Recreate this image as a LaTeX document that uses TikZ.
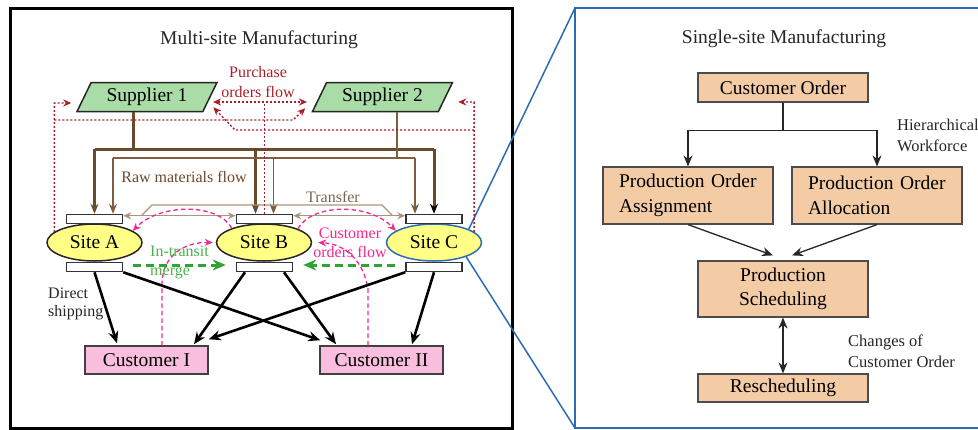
\documentclass[tikz,border=0pt]{standalone}
\usepackage{fontspec}
\setmainfont{Liberation Serif}
\usetikzlibrary{shapes.geometric,arrows.meta,calc}

\definecolor{brownA}{HTML}{6B4A2B}
\definecolor{brownB}{HTML}{7D5F3F}
\definecolor{tanline}{HTML}{A8957E}
\definecolor{tantext}{HTML}{7A6650}
\definecolor{porder}{HTML}{A8202C}
\definecolor{corder}{HTML}{F2288E}
\definecolor{transit}{HTML}{2FA334}
\definecolor{transittext}{HTML}{4DB04F}
\definecolor{suppfill}{HTML}{A9DCA6}
\definecolor{sitefill}{HTML}{FFFF85}
\definecolor{custfill}{HTML}{F9BDDE}
\definecolor{stepfill}{HTML}{F3CCA6}
\definecolor{zoomblue}{HTML}{2C6CB5}

\newcommand\mainsize{\fontsize{19.5}{24.5}\selectfont}
\newcommand\labelsize{\fontsize{16}{19.5}\selectfont}
\newcommand\notesize{\fontsize{16.5}{21}\selectfont}

\begin{document}
\begin{tikzpicture}[x=1pt,y=-1pt,
  supplier/.style={trapezium, trapezium left angle=60, trapezium right angle=120,
    trapezium stretches=true, draw=black!85, line width=1.5pt, fill=suppfill,
    minimum width=140pt, minimum height=29pt, inner sep=0pt, font=\mainsize},
  site/.style={ellipse, draw=black!85, line width=1.5pt, fill=sitefill,
    minimum width=95pt, minimum height=37pt, inner sep=0pt, font=\mainsize},
  dock/.style={rectangle, draw=black!80, line width=1.5pt, fill=white,
    minimum width=56pt, minimum height=9pt, inner sep=0pt},
  customer/.style={rectangle, draw=black!75, line width=1.5pt, fill=custfill,
    minimum width=123pt, minimum height=28pt, inner sep=0pt, font=\mainsize},
  stepbox/.style={rectangle, draw=black!70, line width=1.2pt, fill=stepfill,
    minimum width=170pt, inner sep=0pt, font=\mainsize},
  rawthick/.style={draw=brownA, line width=3pt},
  rawthin/.style={draw=brownB, line width=1.5pt},
  rawtip/.style={-{Stealth[length=10pt,width=8pt]}},
  transferline/.style={draw=tanline, line width=1.3pt},
  purchase/.style={draw=porder, line width=1.4pt, dash pattern=on 2pt off 2pt},
  ptip/.style={-{Stealth[length=8pt,width=7pt]}},
  custorder/.style={draw=corder, line width=1.3pt, dash pattern=on 4.5pt off 3pt},
  ctip/.style={-{Stealth[length=8pt,width=7pt]}},
  intransit/.style={draw=transit, line width=3pt, dash pattern=on 8pt off 5pt,
    -{Stealth[length=13pt,width=11pt]}, shorten <=10pt, shorten >=10pt},
  ship/.style={draw=black, line width=2.6pt, -{Stealth[length=12pt,width=10pt]}},
  flow/.style={draw=black!85, line width=1.3pt, -{Stealth[length=11pt,width=9pt]}},
  lbl/.style={font=\labelsize, inner sep=0pt, align=center},
]
\useasboundingbox (0,0) rectangle (978,429);

% ---------- frames ----------
\draw[black, line width=3pt] (10,8) rectangle (512,428);
\coordinate (zoomTop) at (575,8);
\coordinate (zoomBot) at (575,428);
\draw[zoomblue, line width=2.5pt] (990,8) -- (zoomTop) -- (zoomBot) -- (990,428);

% ---------- multi-site side ----------
\node[font=\mainsize, text=black!85] (titleL) at (259,40) {Multi-site Manufacturing};

\node[supplier] (s1) at (147,97) {Supplier 1};
\node[supplier] (s2) at (382.5,97) {Supplier 2};

\node[site] (sA) at (94.5,242.5) {Site A};
\node[site] (sB) at (264,242.5) {Site B};
\node[site, draw=zoomblue] (sC) at (434,242.5) {Site C};

\node[dock] (aTop) at (94.5,219) {};
\node[dock] (bTop) at (264.5,219) {};
\node[dock] (cTop) at (434,219) {};
\node[dock] (aBot) at (94.5,267) {};
\node[dock] (bBot) at (264.5,267) {};
\node[dock] (cBot) at (434,267) {};

\node[customer] (c1) at (146.5,360) {Customer I};
\node[customer] (c2) at (381.5,360) {Customer II};

% zoom lines from Site C to the single-site panel
\draw[zoomblue, line width=1.5pt] (sC.21) -- (zoomTop);
\draw[zoomblue, line width=1.5pt] (sC.-24) -- (zoomBot);

% raw materials: thick bus from Supplier 1
\draw[rawthick] ([xshift=-14pt]s1.south) -- ([xshift=-14pt]s1.south |- 0,149);
\draw[rawthick] (aTop.north |- 0,149) -- (cTop.north |- 0,149);
\draw[rawthick, rawtip] (aTop.north |- 0,149) -- (aTop.north);
\draw[rawthick, rawtip] ([xshift=-9pt]bTop.north |- 0,149) -- ([xshift=-9pt]bTop.north);
\draw[rawthick, -{Stealth[length=10pt,width=8pt,color=black]}] (cTop.north |- 0,149) -- (cTop.north);

% raw materials: thin bus from Supplier 2
\draw[rawthin] ([xshift=14.5pt]s2.south) -- ([xshift=14.5pt]s2.south |- 0,158);
\draw[rawthin] ([xshift=18.5pt]aTop.north |- 0,158) -- ([xshift=-19pt]cTop.north |- 0,158);
\draw[rawthin, rawtip] ([xshift=18.5pt]aTop.north |- 0,158) -- ([xshift=18.5pt]aTop.north);
\draw[rawthin, rawtip] ([xshift=9pt]bTop.north |- 0,158) -- ([xshift=9pt]bTop.north);
\draw[rawthin, rawtip] ([xshift=-19pt]cTop.north |- 0,158) -- ([xshift=-19pt]cTop.north);

\node[lbl, text=brownA] (rawlbl) at (184,177) {Raw materials flow};

% transfer between sites
\draw[transferline, {Stealth[length=8pt,width=7pt]}-{Stealth[length=8pt,width=7pt]}]
  ([yshift=-2pt]aTop.north east) -- ([yshift=-2pt]bTop.north west);
\draw[transferline, {Stealth[length=8pt,width=7pt]}-{Stealth[length=8pt,width=7pt]}]
  ([yshift=-2pt]bTop.north east) -- ([yshift=-2pt]cTop.north west);
\draw[transferline] (142,215) -- (152,205) -- (382,205) -- (392,215);
\node[lbl, text=tantext] (translbl) at (333,197) {Transfer};

% purchase orders
\draw[purchase, ptip] (sA.165) -- (sA.165 |- 0,103) -- ($(s1.west)+(-12,6)$);
\draw[purchase, ptip] (sA.165 |- 0,120) -- (293,120) -- ([shift={(-6,-4)}]s2.bottom left corner);
\draw[purchase, ptip] (sC.15) -- (sC.15 |- 0,102) -- ($(s2.east)+(12,5)$);
\draw[purchase, ptip] (sC.15 |- 0,130) -- (235,130) -- ([shift={(10,-5)}]s1.bottom right corner);
\draw[purchase] (bTop.north) -- (bTop.north |- 0,102);
\draw[purchase, {Stealth[length=8pt,width=7pt]}-{Stealth[length=8pt,width=7pt]}] (213,102) -- (307,102);
\node[lbl, text=porder, font=\fontsize{16}{20}\selectfont] (polbl) at (258,82) {Purchase\\orders flow};

% customer orders
\draw[custorder, ctip] (sB.156) .. controls (218,203) and (160,203) .. (sA.17);
\draw[custorder, ctip] (sB.22) .. controls (312,203) and (370,203) .. (sC.163);
\draw[custorder, ctip] ([xshift=15.5pt]c1.north) -- ++(0,-61)
  .. controls (162,255) and (185,242) .. ([xshift=-3pt]sB.west);
\draw[custorder, ctip] ([xshift=-13.5pt]c2.north) -- ++(0,-56)
  .. controls (364,262) and (346,244) .. ([xshift=6pt]sB.east);
\node[lbl, text=corder, font=\fontsize{16}{19}\selectfont] (colbl) at (350,242.5) {Customer\\orders flow};

% in-transit merge
\draw[intransit] ([yshift=2pt]aBot.east) -- ([yshift=2pt]bBot.west);
\draw[intransit] ([yshift=2pt]cBot.west) -- ([yshift=2pt]bBot.east);
\node[lbl, align=left, anchor=west, text=transittext, font=\fontsize{16}{19}\selectfont] (itlbl) at (150,262.5) {In-transit\\merge};

% direct shipping
\draw[ship] (aBot.south) -- ([shift={(-29.5,-2)}]c1.north);
\draw[ship] (aBot.south east) -- ([shift={(1,-5)}]c2.north west);
\draw[ship] ([xshift=-19.5pt]bBot.south) -- ([shift={(47.5,-1)}]c1.north);
\draw[ship] ([xshift=19.5pt]bBot.south) -- ([shift={(-45.5,-1)}]c2.north);
\draw[ship] (cBot.south west) -- ([shift={(0,-6)}]c1.north east);
\draw[ship] (cBot.south) -- ([shift={(30.5,-1)}]c2.north);
\node[lbl, align=left, anchor=west, text=black!85, font=\fontsize{16}{18.5}\selectfont] (dslbl) at (48,304) {Direct\\shipping};

% ---------- single-site side ----------
\node[font=\mainsize, text=black!85] (titleR) at (784,39) {Single-site Manufacturing};

\node[stepbox, minimum height=29pt] (co) at (783,87.5) {Customer Order};
\node[stepbox, minimum height=57pt, text width=138pt, align=left] (pa) at (688,195.5) {Production Order\\Assignment};
\node[stepbox, minimum height=57pt, text width=138pt, align=left] (pl) at (877,195.5) {Production Order\\Allocation};
\node[stepbox, minimum height=56pt, align=center] (ps) at (783,289) {Production\\Scheduling};
\node[stepbox, minimum height=28pt] (rs) at (783,388) {Rescheduling};

\draw[flow] (co.south) -- ++(0,28) -| (pa.north);
\draw[flow] (co.south) -- ++(0,28) -| (pl.north);
\draw[flow] (pa.south) -- ([shift={(-10,-5)}]ps.north);
\draw[flow] (pl.south) -- ([shift={(9,-5)}]ps.north);
\draw[flow, {Stealth[length=11pt,width=9pt]}-{Stealth[length=11pt,width=9pt]}] (ps.south) -- (rs.north);

\node[lbl, align=left, anchor=west, text=black!85, font=\notesize] (hwlbl) at (897,135.5) {Hierarchical\\Workforce};
\node[lbl, align=left, anchor=west, text=black!85, font=\notesize] (chlbl) at (848,351.5) {Changes of\\Customer Order};
\end{tikzpicture}
\end{document}
